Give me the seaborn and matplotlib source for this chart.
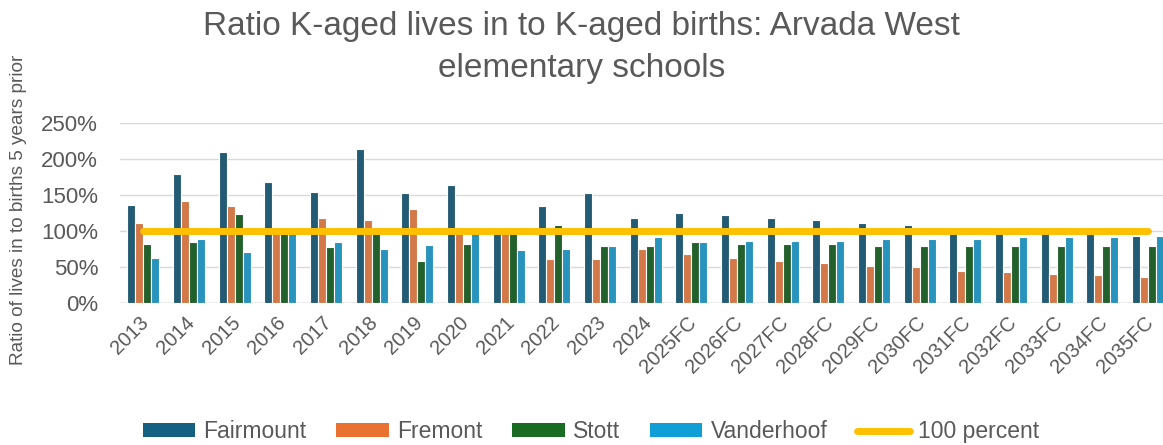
import numpy as np
import pandas as pd
import matplotlib
matplotlib.use("Agg")
import matplotlib.pyplot as plt
import matplotlib.transforms as mtransforms
from matplotlib.patches import Patch
from matplotlib.lines import Line2D
import seaborn as sns

years = ["2013", "2014", "2015", "2016", "2017", "2018", "2019", "2020", "2021", "2022",
         "2023", "2024", "2025FC", "2026FC", "2027FC", "2028FC", "2029FC", "2030FC",
         "2031FC", "2032FC", "2033FC", "2034FC", "2035FC"]
fairmount = [137, 179, 210, 168, 155, 214, 153, 164, 98, 135, 153, 118, 126, 122, 118,
             115, 111, 109, 99, 98, 97, 96, 94]
fremont = [111, 142, 135, 98, 118, 116, 131, 97, 98, 61, 61, 76, 68, 63, 59, 56, 52, 50,
           45, 43, 41, 39, 37]
stott = [83, 85, 124, 98, 78, 97, 59, 83, 98, 109, 80, 79, 85, 83, 83, 83, 80, 80, 80,
         80, 79, 79, 79]
vanderhoof = [63, 89, 72, 98, 85, 76, 81, 97, 74, 76, 79, 92, 85, 87, 87, 87, 89, 89, 89,
              92, 92, 92, 94]
hundred = [100] * len(years)

schools = ["Fairmount", "Fremont", "Stott", "Vanderhoof"]
colors = ["#156082", "#E97132", "#196B24", "#0F9ED5"]
line_color = "#FFC000"
text_color = "#595959"

df = pd.DataFrame({
    "year": years * 4,
    "school": np.repeat(schools, len(years)),
    "ratio": fairmount + fremont + stott + vanderhoof,
})

sns.set_style("white")
plt.rcParams["font.family"] = ["Liberation Sans", "DejaVu Sans"]

fig = plt.figure(figsize=(11.63, 4.45), dpi=100)
ax = fig.add_axes([0.1035, 0.318, 0.8965, 0.4056])

sns.barplot(data=df, x="year", y="ratio", hue="school", order=years, hue_order=schools,
            palette=colors, width=0.7, edgecolor="white", linewidth=0.8,
            legend=False, ax=ax, zorder=3)
ax.plot(np.arange(len(years)), hundred, color=line_color, lw=5, solid_capstyle="round",
        zorder=4)

ax.set_xlim(-0.5, 22.33)
ax.set_ylim(0, 250)
ax.set_yticks(range(0, 251, 50))
ax.set_yticklabels([f"{v}%" for v in range(0, 251, 50)])
ax.grid(axis="y", color="#D9D9D9", lw=1, zorder=0)
ax.axhline(0, color="#BFBFBF", lw=1, zorder=2)
for s in ax.spines.values():
    s.set_visible(False)
ax.tick_params(axis="y", length=0, labelsize=16, labelcolor=text_color, pad=16)
ax.tick_params(axis="x", length=0, labelsize=14.5, labelcolor=text_color, pad=7)
shift = mtransforms.ScaledTranslation(-4 / 100, 0, fig.dpi_scale_trans)
for lab in ax.get_xticklabels():
    lab.set_rotation(45)
    lab.set_ha("right")
    lab.set_rotation_mode("anchor")
    lab.set_transform(lab.get_transform() + shift)
ax.set_xlabel("")
ax.set_ylabel("")

fig.text(0.0155, 0.528, "Ratio of lives in to births 5 years prior", rotation=90,
         ha="center", va="center", fontsize=13.7, color=text_color)
fig.text(0.5, 0.975, "Ratio K-aged lives in to K-aged births: Arvada West\nelementary schools",
         ha="center", va="top", fontsize=24, color=text_color, linespacing=1.45)

handles = [Patch(facecolor=c, edgecolor="none") for c in colors]
handles.append(Line2D([0], [0], color=line_color, lw=5, solid_capstyle="round"))
fig.legend(handles, schools + ["100 percent"], loc="center", ncol=5,
           bbox_to_anchor=(0.508, 0.03), frameon=False, fontsize=16.5,
           handlelength=2.3, handleheight=0.55, handletextpad=0.35, columnspacing=1.3,
           labelcolor=text_color)

fig.savefig("out.png", dpi=100)
